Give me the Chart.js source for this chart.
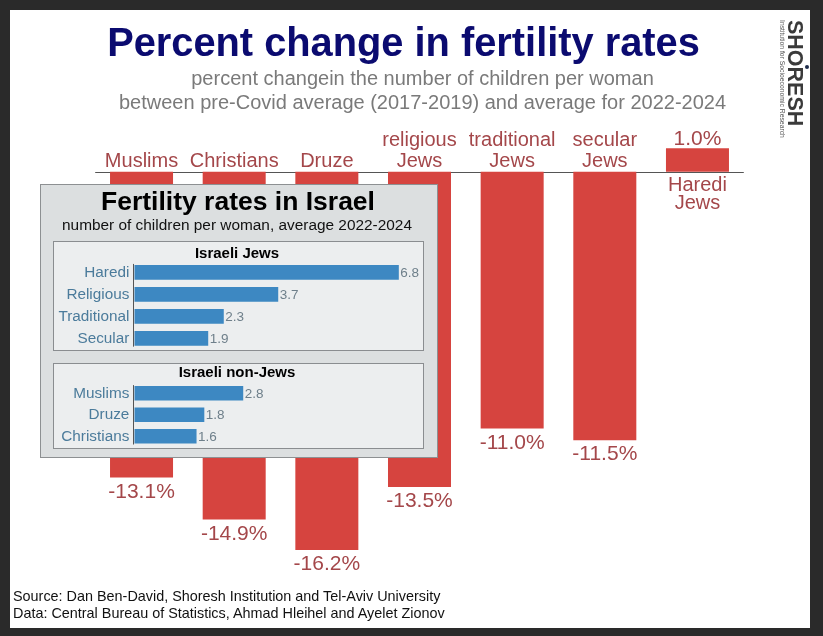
<!DOCTYPE html>
<html>
<head>
<meta charset="utf-8">
<script src="https://cdn.jsdelivr.net/npm/chart.js@4"></script>
<style>
  html, body { margin:0; padding:0; }
  body { width:823px; height:636px; background:#2a2a2a; position:relative; overflow:hidden; font-family:"Liberation Sans", Arial, sans-serif; }
  .abs { position:absolute; }
  #card { left:10px; top:10px; width:800px; height:618px; background:#ffffff; }
  canvas.full { position:absolute; left:0; top:0; width:823px; height:636px; }
  #title { left:3.5px; width:800px; top:17px; line-height:50px; text-align:center; font-weight:bold; font-size:39.8px; color:#0b0b70; white-space:nowrap; z-index:5; }
  .sub { left:22.5px; width:800px; text-align:center; font-size:20px; line-height:24px; color:#7a7a7a; white-space:nowrap; z-index:5; }
  #inset { left:39.5px; top:183.5px; width:396px; height:272.5px; background:#dcdfe0; border:1px solid #8d9092; z-index:3; }
  .panel { position:absolute; background:#eceeef; border:1px solid #8a8d90; z-index:4; }
  #insetTitle { left:38px; width:400px; top:187px; line-height:28px; text-align:center; font-weight:bold; font-size:26.5px; color:#000; z-index:5; white-space:nowrap; }
  #insetSub { left:37px; width:400px; top:215px; line-height:20px; text-align:center; font-size:15.4px; color:#111; z-index:5; white-space:nowrap; }
  .ptitle { left:37px; width:400px; text-align:center; font-weight:bold; font-size:15px; line-height:18px; color:#000; z-index:5; white-space:nowrap; }
  .src { left:13px; font-size:14.4px; line-height:18px; color:#111; z-index:5; white-space:nowrap; }
  #logo { left:784px; top:20px; width:22px; writing-mode:vertical-rl; font-weight:bold; font-size:21.5px; line-height:22px; color:#3a3a3a; z-index:5; white-space:nowrap; }
  #logoSub { left:777px; top:20px; width:10px; writing-mode:vertical-rl; font-size:6.8px; line-height:10px; color:#555; z-index:5; white-space:nowrap; }
  #logoDot { left:804.5px; top:65px; width:4px; height:4px; border-radius:50%; background:#1d2b4a; z-index:5; }
</style>
</head>
<body>
<div id="card" class="abs"></div>
<div id="title" class="abs">Percent change in fertility rates</div>
<div class="abs sub" style="top:66px;">percent changein the number of children per woman</div>
<div class="abs sub" style="top:90px;">between pre-Covid average (2017-2019) and average for 2022-2024</div>
<div id="logo" class="abs">SHORESH</div>
<div id="logoSub" class="abs">Institution for Socioeconomic Research</div>
<div id="logoDot" class="abs"></div>

<canvas id="mainChart" class="full" width="823" height="636" style="z-index:2"></canvas>

<div id="inset" class="abs"></div>
<div class="panel" style="left:52.5px; top:241px; width:369.5px; height:107.5px;"></div>
<div class="panel" style="left:52.5px; top:362.5px; width:369.5px; height:84px;"></div>
<div id="insetTitle" class="abs">Fertility rates in Israel</div>
<div id="insetSub" class="abs">number of children per woman, average 2022-2024</div>
<div class="abs ptitle" style="top:243.5px;">Israeli Jews</div>
<div class="abs ptitle" style="top:363px;">Israeli non-Jews</div>

<canvas id="jewsChart" class="full" width="823" height="636" style="z-index:6"></canvas>
<canvas id="nonJewsChart" class="full" width="823" height="636" style="z-index:6"></canvas>

<div class="abs src" style="top:587px;">Source: Dan Ben-David, Shoresh Institution and Tel-Aviv University</div>
<div class="abs src" style="top:604px;">Data: Central Bureau of Statistics, Ahmad Hleihel and Ayelet Zionov</div>

<script>
// ---------- data ----------
const groupLabels = [["Muslims"], ["Christians"], ["Druze"], ["religious", "Jews"], ["traditional", "Jews"], ["secular", "Jews"], ["Haredi", "Jews"]];
const percentChange = [-13.1, -14.9, -16.2, -13.5, -11.0, -11.5, 1.0];

const jewsLabels = ["Haredi", "Religious", "Traditional", "Secular"];
const jewsRates = [6.8, 3.7, 2.3, 1.9];

const nonJewsLabels = ["Muslims", "Druze", "Christians"];
const nonJewsRates = [2.8, 1.8, 1.6];

// ---------- styles ----------
const FONT = '"Liberation Sans", Arial, sans-serif';
const RED = '#d6443f';
const RED_TEXT = '#a4474a';
const BLUE = '#3d88c2';
const BLUE_TEXT = '#4b7b9b';
const VAL_TEXT = '#6e7f8a';

Chart.defaults.font.family = FONT;

// ---------- main chart ----------
const mainLabelsPlugin = {
  id: 'mainLabels',
  beforeDatasetsDraw(chart) {
    const ctx = chart.ctx, area = chart.chartArea;
    const y0 = chart.scales.y.getPixelForValue(0);
    ctx.save();
    ctx.strokeStyle = '#555';
    ctx.lineWidth = 1;
    ctx.beginPath();
    ctx.moveTo(area.left, Math.round(y0) + 0.5);
    ctx.lineTo(area.right, Math.round(y0) + 0.5);
    ctx.stroke();
    ctx.restore();
  },
  afterDatasetsDraw(chart) {
    const ctx = chart.ctx;
    const meta = chart.getDatasetMeta(0);
    const y0 = chart.scales.y.getPixelForValue(0);
    const vals = chart.data.datasets[0].data;
    const labels = chart.data.labels;
    ctx.save();
    ctx.fillStyle = RED_TEXT;
    ctx.textAlign = 'center';
    ctx.textBaseline = 'alphabetic';
    meta.data.forEach((bar, i) => {
      const p = bar.getProps(['x', 'y', 'base'], true);
      const v = vals[i];
      const lines = labels[i];
      ctx.font = '20px ' + FONT;
      if (v < 0) {
        for (let k = 0; k < lines.length; k++) {
          const fromBottom = lines.length - 1 - k;
          ctx.fillText(lines[k], p.x, y0 - 4.4 - fromBottom * 21.6);
        }
        ctx.font = '21px ' + FONT;
        ctx.fillText(v.toFixed(1) + '%', p.x, p.y + 20);
      } else {
        for (let k = 0; k < lines.length; k++) {
          ctx.fillText(lines[k], p.x, y0 + 19 + k * 18);
        }
        ctx.font = '21px ' + FONT;
        ctx.fillText(v.toFixed(1) + '%', p.x, p.y - 3.5);
      }
    });
    ctx.restore();
  }
};

new Chart(document.getElementById('mainChart'), {
  type: 'bar',
  data: {
    labels: groupLabels,
    datasets: [{ data: percentChange, backgroundColor: RED, borderWidth: 0, barPercentage: 0.68, categoryPercentage: 1.0 }]
  },
  options: {
    responsive: false,
    animation: false,
    events: [],
    layout: { padding: { left: 95.2, right: 823 - 743.8, top: 101.65, bottom: 636 - 592.0 } },
    plugins: { legend: { display: false }, tooltip: { enabled: false }, title: { display: false } },
    scales: {
      x: { display: false },
      y: { display: false, min: -18, max: 3 }
    }
  },
  plugins: [mainLabelsPlugin]
});

// ---------- inset charts ----------
const insetPlugin = {
  id: 'insetLabels',
  afterDatasetsDraw(chart) {
    const ctx = chart.ctx;
    const meta = chart.getDatasetMeta(0);
    const vals = chart.data.datasets[0].data;
    const area = chart.chartArea;
    ctx.save();
    const first = meta.data[0].getProps(['y', 'height'], true);
    const last = meta.data[meta.data.length - 1].getProps(['y', 'height'], true);
    ctx.strokeStyle = '#555';
    ctx.lineWidth = 1;
    ctx.beginPath();
    ctx.moveTo(Math.round(area.left) - 0.5, first.y - first.height / 2 - 1);
    ctx.lineTo(Math.round(area.left) - 0.5, last.y + last.height / 2 + 1);
    ctx.stroke();
    ctx.fillStyle = VAL_TEXT;
    ctx.font = '13.5px ' + FONT;
    ctx.textAlign = 'left';
    ctx.textBaseline = 'middle';
    meta.data.forEach((bar, i) => {
      const p = bar.getProps(['x', 'y'], true);
      ctx.fillText(vals[i].toFixed(1), p.x + 1.5, p.y + 0.5);
    });
    ctx.restore();
  }
};

function makeInset(id, labels, values, top, bottom) {
  new Chart(document.getElementById(id), {
    type: 'bar',
    data: {
      labels: labels,
      datasets: [{ data: values, backgroundColor: BLUE, borderWidth: 0, barPercentage: 0.67, categoryPercentage: 1.0 }]
    },
    options: {
      indexAxis: 'y',
      responsive: false,
      animation: false,
      events: [],
      layout: { padding: { left: 53, right: 823 - (134.3 + 7 * 38.9), top: top, bottom: 636 - bottom } },
      plugins: { legend: { display: false }, tooltip: { enabled: false } },
      scales: {
        x: { display: false, min: 0, max: 7 },
        y: {
          display: true,
          grid: { display: false, drawTicks: false },
          border: { display: false },
          ticks: { color: BLUE_TEXT, font: { size: 15.3, family: FONT }, padding: 5 },
          afterFit(scale) { scale.width = 81.3; }
        }
      }
    },
    plugins: [insetPlugin]
  });
}

makeInset('jewsChart', jewsLabels, jewsRates, 261.3, 349.3);
makeInset('nonJewsChart', nonJewsLabels, nonJewsRates, 382.55, 447.05);
</script>
</body>
</html>
